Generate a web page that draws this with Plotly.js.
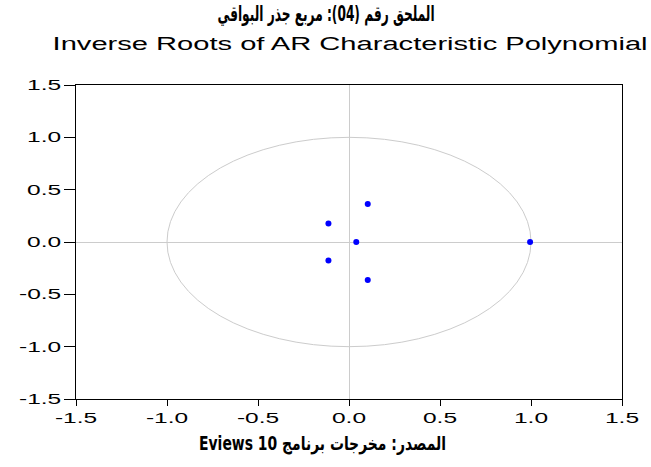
<!DOCTYPE html>
<html>
<head>
<meta charset="utf-8">
<script src="https://cdn.plot.ly/plotly-3.0.1.min.js"></script>
<style>
html,body{margin:0;padding:0;background:#fff;}
#chart{width:651px;height:467px;}
</style>
</head>
<body>
<div id="chart"></div>
<script>
const rootReal = [0.995, 0.04, 0.103, 0.103, -0.113, -0.113];
const rootImag = [0.0, 0.0, 0.362, -0.362, 0.176, -0.176];

const tickVals = [-1.5, -1.0, -0.5, 0.0, 0.5, 1.0, 1.5];
const tickText = ["-1.5", "-1.0", "-0.5", "0.0", "0.5", "1.0", "1.5"];

const unitRadius = 1;

const titleAr = "\u202Bالملحق رقم (04): مربع جذر البواقي\u202C";
const titleEn = "Inverse Roots of AR Characteristic Polynomial";
const sourceAr = "\u202Bالمصدر: مخرجات برنامج Eviews 10\u202C";

const data = [{
  type: 'scatter',
  mode: 'markers',
  x: rootReal,
  y: rootImag,
  marker: {color: '#0000ff', size: 6, line: {width: 0}},
  hoverinfo: 'x+y',
  showlegend: false
}];

const axisCommon = {
  range: [-1.5, 1.5],
  tickvals: tickVals,
  ticktext: tickText,
  showgrid: false,
  zeroline: true,
  zerolinecolor: '#cccccc',
  zerolinewidth: 1,
  showline: true,
  linecolor: '#000000',
  linewidth: 1,
  mirror: true,
  ticks: 'outside',
  tickcolor: '#000000',
  tickwidth: 1,
  tickfont: {family: 'Liberation Sans, Arial, sans-serif', size: 14, color: '#000000'},
  fixedrange: true
};

const layout = {
  width: 651,
  height: 467,
  margin: {l: 76, r: 29, t: 85, b: 68},
  paper_bgcolor: '#ffffff',
  plot_bgcolor: '#ffffff',
  showlegend: false,
  title: {
    text: titleEn,
    font: {family: 'Liberation Sans, Arial, sans-serif', size: 18, color: '#000000'},
    x: 0.502, xref: 'paper', xanchor: 'center',
    y: 1 - 44 / 467, yref: 'container', yanchor: 'middle'
  },
  xaxis: Object.assign({}, axisCommon, {ticklen: 6}),
  yaxis: Object.assign({}, axisCommon, {ticklen: 11}),
  shapes: [{
    type: 'circle', xref: 'x', yref: 'y',
    x0: -unitRadius, x1: unitRadius, y0: -unitRadius, y1: unitRadius,
    line: {color: '#cccccc', width: 1},
    layer: 'below'
  }],
  annotations: [
    {
      text: '<b>' + titleAr + '</b>', showarrow: false,
      xref: 'paper', yref: 'paper', x: 0.457, y: (399 - 14) / 314,
      xanchor: 'center', yanchor: 'middle',
      font: {family: 'DejaVu Sans, sans-serif', size: 21, color: '#000000'}
    },
    {
      text: '<b>' + sourceAr + '</b>', showarrow: false,
      xref: 'paper', yref: 'paper', x: 0.452, y: (399 - 443) / 314,
      xanchor: 'center', yanchor: 'middle',
      font: {family: 'DejaVu Sans, sans-serif', size: 19, color: '#000000'}
    }
  ]
};

Plotly.newPlot('chart', data, layout, {displayModeBar: false, staticPlot: true}).then(gd => {
  const fit = (t, len) => {
    t.setAttribute('textLength', len.toFixed(1));
    t.setAttribute('lengthAdjust', 'spacingAndGlyphs');
  };
  gd.querySelectorAll('.xtick text, .ytick text').forEach(t => fit(t, t.getComputedTextLength() * 1.75));
  gd.querySelectorAll('.gtitle').forEach(t => fit(t, 595));
  const ann = gd.querySelectorAll('.annotation-text');
  if (ann[0]) fit(ann[0], 217);
  if (ann[1]) fit(ann[1], 247);
});
</script>
</body>
</html>
